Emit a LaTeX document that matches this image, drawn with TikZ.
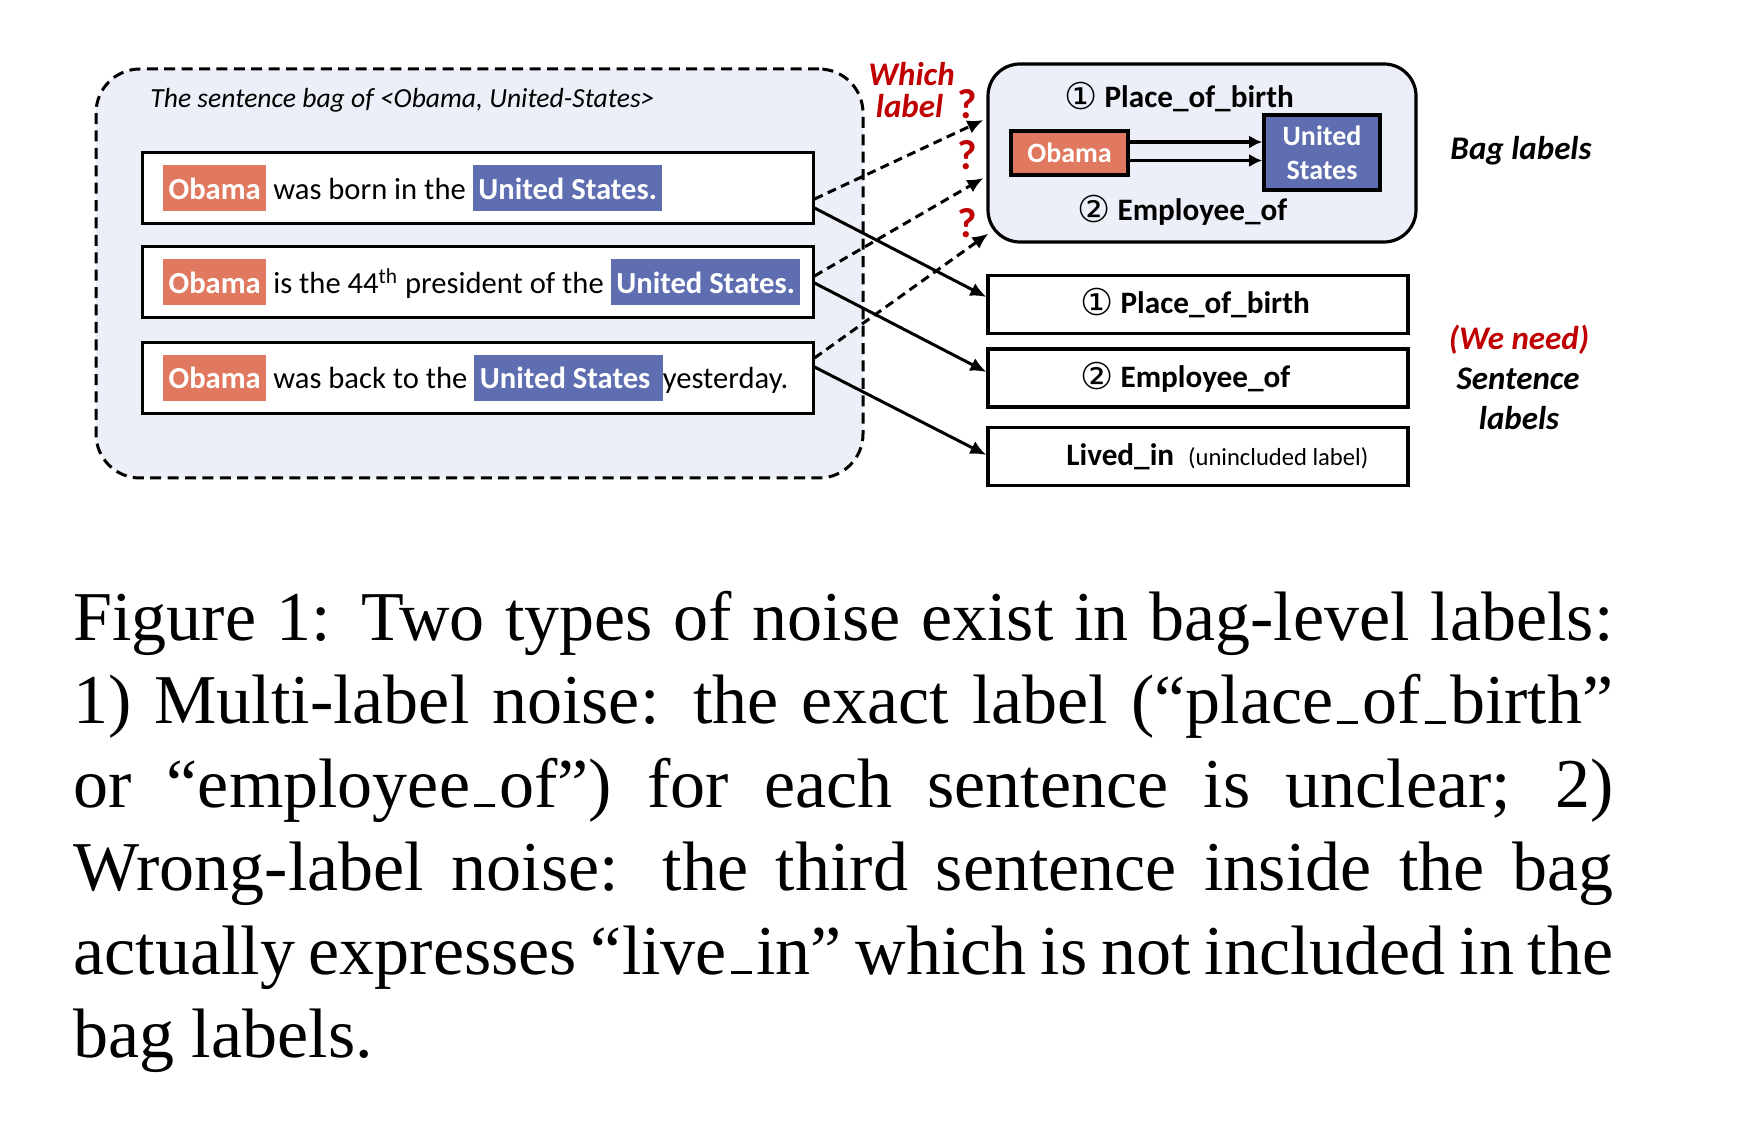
\documentclass[tikz,border=0pt]{standalone}
\usepackage{fontspec}
\setmainfont{Liberation Serif}
\newfontfamily\calfont{Carlito}
\newfontfamily\dvfont{DejaVu Sans}
\usetikzlibrary{arrows.meta,calc}
\definecolor{obor}{RGB}{224,121,95}
\definecolor{usbl}{RGB}{94,110,176}
\definecolor{bagbg}{RGB}{236,239,248}
\definecolor{redq}{RGB}{192,0,0}
\newcommand\hlo[1]{{\setlength{\fboxsep}{0pt}\colorbox{obor}{\rule[-6pt]{0pt}{23pt}\hspace{2.8pt}\textcolor{white}{\bfseries #1}\hspace{2.8pt}}}}
\newcommand\hlu[1]{{\setlength{\fboxsep}{0pt}\colorbox{usbl}{\rule[-6pt]{0pt}{23pt}\hspace{2.8pt}\textcolor{white}{\bfseries #1}\hspace{2.8pt}}}}
\newcommand\circn[1]{{\dvfont\mdseries\fontsize{18.5pt}{19pt}\selectfont\raisebox{-0.6pt}{#1}}}
\newcommand\lowbar{\leavevmode\kern.06em\vbox{\hrule width .3em height 1.3pt}\kern.06em}
\tikzset{
  bagstyle/.style={draw, dash pattern=on 5.5pt off 3.2pt, line width=1.5pt, fill=bagbg, rounded corners=22pt, minimum width=383.5pt, minimum height=204.5pt, inner sep=0pt},
  sentbox/.style={draw, line width=1.5pt, fill=white, minimum width=335.5pt, minimum height=35.5pt, inner xsep=10.5pt, inner ysep=0pt, font=\calfont\fontsize{15.3pt}{18pt}\selectfont},
  bagtitle/.style={anchor=base west, inner sep=0pt, font=\calfont\itshape\fontsize{13.8pt}{16pt}\selectfont},
  blbox/.style={draw, line width=1.6pt, fill=bagbg, rounded corners=16pt, minimum width=214pt, minimum height=89pt, inner sep=0pt},
  entbox/.style={draw, line width=1.8pt, inner sep=0pt, text=white, font=\calfont\bfseries\fontsize{14pt}{16.8pt}\selectfont, align=center},
  labbox/.style={draw, line width=1.6pt, fill=white, minimum width=210pt, minimum height=29pt, inner sep=0pt},
  labtxt/.style={anchor=base west, inner sep=0pt, font=\calfont\bfseries\fontsize{15.6pt}{18pt}\selectfont},
  side/.style={anchor=base, inner sep=0pt, font=\calfont\bfseries\itshape\fontsize{16.5pt}{20pt}\selectfont},
  qmark/.style={anchor=base, inner sep=0pt, text=redq, font=\calfont\bfseries\fontsize{21pt}{24pt}\selectfont},
  conn/.style={line width=1.5pt, -{Latex[length=8pt,width=7pt]}},
  dconn/.style={conn, dash pattern=on 4.5pt off 2.8pt},
  inarr/.style={line width=1.8pt, -{Latex[length=6.5pt,width=6.5pt]}},
  capline/.style={anchor=base west, inner sep=0pt, font=\fontsize{35pt}{42pt}\selectfont},
}
\begin{document}
\begin{tikzpicture}[x=0.5pt,y=-0.5pt]
\fill[white] (0,0) rectangle (1739,1122);
\path[use as bounding box] (0,0) rectangle (1739,1122);

% sentence bag
\node[bagstyle] (bag) at (479.5,273.5) {};
\node[bagtitle] (bagt) at (150,108) {The sentence bag of <Obama, United-States>};

\node[sentbox] (s1) at (477.5,188.5) {\makebox[314.5pt][l]{\hlo{Obama} was born in the \hlu{United States.}}};
\node[sentbox] (s2) at (477.5,282.5) {\makebox[314.5pt][l]{\hlo{Obama} is the 44\textsuperscript{th} president of the \hlu{United States.}}};
\node[sentbox] (s3) at (477.5,378) {\makebox[314.5pt][l]{\hlo{Obama} was back to the \hlu{United States~}yesterday.}};

% bag labels box
\node[blbox] (bl) at (1202,153) {};
\node[labtxt] (bl1) at (1064,108) {\circn{①} Place\_of\_birth};
\node[labtxt] (bl2) at (1077,221) {\circn{②} Employee\_of};
\node[entbox, fill=obor, minimum width=58.5pt, minimum height=22pt] (ob) at (1069.5,153) {Obama};
\node[entbox, fill=usbl, minimum width=58pt, minimum height=37.5pt] (us) at (1322,152.5) {United\\States};
\coordinate (oa) at ($(ob.east)+(0,-11)$);
\coordinate (obb) at ($(ob.east)+(0,7.5)$);
\draw[inarr] (oa) -- (oa -| us.west);
\draw[inarr] (obb) -- (obb -| us.west);

\node[side] (bagl) at (1521,160) {Bag labels};

% sentence label boxes
\node[labbox] (l1) at (1198,304.5) {};
\node[labbox] (l2) at (1198,378) {};
\node[labbox] (l3) at (1198,456.5) {};
\node[labtxt] (l1t) at (1080,314) {\circn{①} Place\_of\_birth};
\node[labtxt] (l2t) at (1080,388) {\circn{②} Employee\_of};
\node[labtxt] (l3t) at (1066,466) {Lived\_in\hspace{7pt}{\mdseries\fontsize{12.3pt}{14pt}\selectfont (unincluded label)}};

\node[side, text=redq] (wn) at (1519,350) {(We need)};
\node[side] (sn) at (1518,390) {Sentence};
\node[side] (lb) at (1519,430) {labels};

% which label ?
\node[side, text=redq] (wh) at (911.5,86) {Which};
\node[side, text=redq] (wl) at (909.5,118) {label};
\node[qmark] (q1) at (967,119) {?};
\node[qmark] (q2) at (967,170) {?};
\node[qmark] (q3) at (967,238) {?};

% connectors
\coordinate (s1d) at ($(s1.east)+(0,10.5)$);
\coordinate (s1a) at ($(s1.east)+(0,19.5)$);
\coordinate (s2d) at ($(s2.east)+(0,-6.5)$);
\coordinate (s2a) at ($(s2.east)+(0,0.5)$);
\coordinate (s3d) at ($(s3.east)+(0,-20)$);
\coordinate (s3a) at ($(s3.east)+(0,-11)$);
\coordinate (b1) at ($(bl.west)+(-3,-33)$);
\coordinate (b2) at ($(bl.west)+(-3,25)$);
\coordinate (b3) at ($(bl.south west)+(2,-10)$);
\coordinate (t1) at ($(l1.west)+(0,-7.5)$);
\coordinate (t2) at ($(l2.west)+(0,-6)$);
\coordinate (t3) at ($(l3.west)+(0,-1.5)$);
\draw[dconn] (s1d) -- (b1);
\draw[dconn] (s2d) -- (b2);
\draw[dconn] (s3d) -- (b3);
\draw[conn] (s1a) -- (t1);
\draw[conn] (s2a) -- (t2);
\draw[conn] (s3a) -- (t3);

% caption
\node[capline] (c1) at (73,640) {\makebox[770pt][s]{Figure 1: Two types of noise exist in bag-level labels:}};
\node[capline] (c2) at (73,723.5) {\makebox[770pt][s]{1) Multi-label noise: the exact label (“place\lowbar of\lowbar birth”}};
\node[capline] (c3) at (73,807) {\makebox[770pt][s]{or “employee\lowbar of”) for each sentence is unclear; 2)}};
\node[capline] (c4) at (73,890.5) {\makebox[770pt][s]{Wrong-label noise: the third sentence inside the bag}};
\node[capline] (c5) at (73,974) {\makebox[770pt][s]{actually expresses “live\lowbar in” which is not included in the}};
\node[capline] (c6) at (73,1057.5) {bag labels.};
\end{tikzpicture}
\end{document}
